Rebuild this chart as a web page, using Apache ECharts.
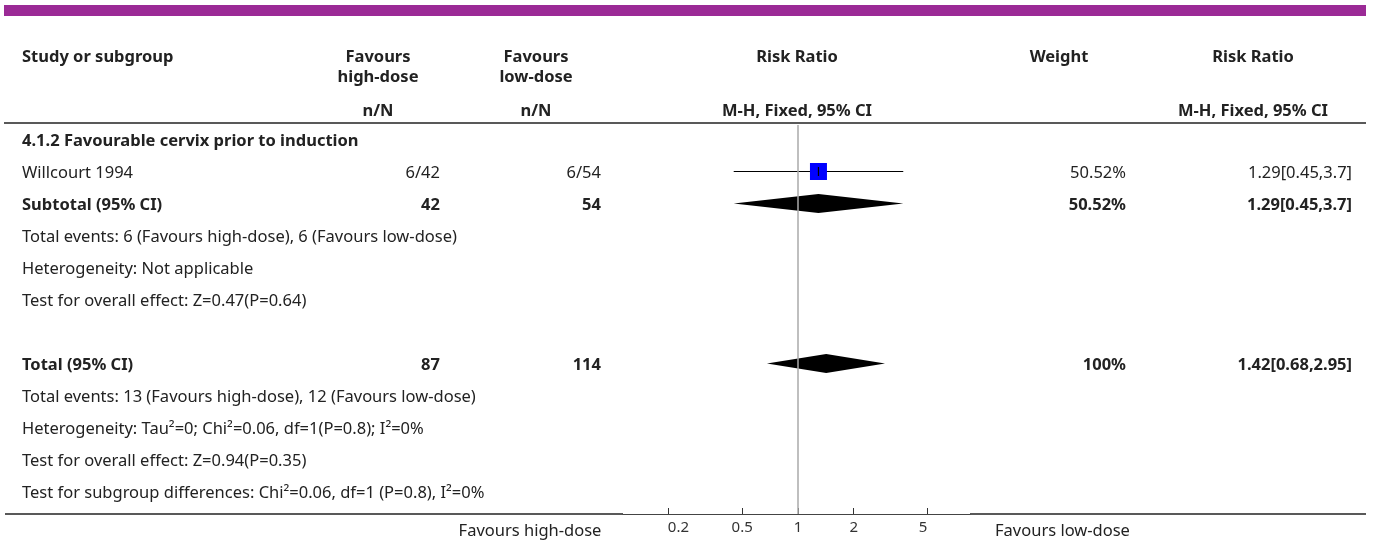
<!DOCTYPE html>
<html>
<head>
<meta charset="utf-8">
<script src="https://cdn.jsdelivr.net/npm/echarts@6/dist/echarts.min.js"></script>
<style>
  html, body { margin: 0; padding: 0; background: #fff; }
  #main { width: 1373px; height: 542px; }
</style>
</head>
<body>
<div id="main"></div>
<script>
// table rows, top to bottom
const rowLabels = [
  "4.1.2 Favourable cervix prior to induction",
  "Willcourt 1994",
  "Subtotal (95% CI)",
  "Total events: 6 (Favours high-dose), 6 (Favours low-dose)",
  "Heterogeneity: Not applicable",
  "Test for overall effect: Z=0.47(P=0.64)",
  "",
  "Total (95% CI)",
  "Total events: 13 (Favours high-dose), 12 (Favours low-dose)",
  "Heterogeneity: Tau²=0; Chi²=0.06, df=1(P=0.8); I²=0%",
  "Test for overall effect: Z=0.94(P=0.35)",
  "Test for subgroup differences: Chi²=0.06, df=1 (P=0.8), I²=0%"
];
const boldRows = [0, 2, 7];
const highDose = ["", "6/42", "42", "", "", "", "", "87", "", "", "", ""];
const lowDose = ["", "6/54", "54", "", "", "", "", "114", "", "", "", ""];
const weights = ["", "50.52%", "50.52%", "", "", "", "", "100%", "", "", "", ""];
const rrText = ["", "1.29[0.45,3.7]", "1.29[0.45,3.7]", "", "", "", "", "1.42[0.68,2.95]", "", "", "", ""];

// individual studies
const studyRows = [1];
const studyRR = [1.29];
const studyLow = [0.45];
const studyHigh = [3.7];

// pooled estimates (diamonds)
const diamondRows = [2, 7];
const diamondRR = [1.29, 1.42];
const diamondLow = [0.45, 0.68];
const diamondHigh = [3.7, 2.95];

const tickValues = [0.2, 0.5, 1, 2, 5];

const FONT = "'Noto Sans'";
const SIZE = 16.5;
const txtColor = "#222";

let chart = echarts.init(document.getElementById("main"));

function txt(text, x, y, align, bold, size) {
  return {
    type: "text",
    x: x,
    y: y,
    style: {
      text: text,
      fill: txtColor,
      font: (bold ? "bold " : "") + (size || SIZE) + "px " + FONT,
      align: align || "left",
      verticalAlign: "middle"
    }
  };
}

let option = {
  animation: false,
  grid: { left: 623, width: 347, top: 125, height: 389 },
  xAxis: {
    type: "log",
    logBase: 10,
    min: 0.1137,
    max: 8.48,
    position: "bottom",
    axisLine: { onZero: false, lineStyle: { color: "#444", width: 1 } },
    axisTick: { customValues: tickValues, inside: true, length: 6, lineStyle: { color: "#333" } },
    axisLabel: {
      customValues: tickValues,
      color: "#333",
      fontSize: 15,
      fontFamily: "Noto Sans",
      margin: 6,
      formatter: function (v) {
        // the two outer labels sit a little inward in the reference
        if (v < 0.3) return "{l|" + v + "}";
        if (v > 4) return "{r|" + v + "}";
        return "{c|" + v + "}";
      },
      rich: {
        l: { fontSize: 15, fontFamily: "Noto Sans", color: "#333", padding: [0, 0, 0, 20] },
        r: { fontSize: 15, fontFamily: "Noto Sans", color: "#333", padding: [0, 9, 0, 0] },
        c: { fontSize: 15, fontFamily: "Noto Sans", color: "#333" }
      }
    },
    splitLine: { show: false }
  },
  yAxis: { type: "value", inverse: true, min: -0.5, max: 11.656, show: false },
  graphic: [
    { type: "rect", shape: { x: 4, y: 5, width: 1362, height: 11 }, style: { fill: "#9b2a96" } },
    txt("Study or subgroup", 22, 57, "left", true),
    txt("Favours", 378, 57, "center", true),
    txt("high-dose", 378, 77, "center", true),
    txt("n/N", 378, 111, "center", true),
    txt("Favours", 536, 57, "center", true),
    txt("low-dose", 536, 77, "center", true),
    txt("n/N", 536, 111, "center", true),
    txt("Risk Ratio", 797, 57, "center", true),
    txt("M-H, Fixed, 95% CI", 797, 111, "center", true),
    txt("Weight", 1059, 57, "center", true),
    txt("Risk Ratio", 1253, 57, "center", true),
    txt("M-H, Fixed, 95% CI", 1253, 111, "center", true),
    { type: "line", shape: { x1: 4, y1: 123, x2: 1366, y2: 123 }, style: { stroke: "#222", lineWidth: 1.5 } },
    { type: "line", shape: { x1: 5, y1: 514, x2: 623, y2: 514 }, style: { stroke: "#222", lineWidth: 1.5 } },
    { type: "line", shape: { x1: 970, y1: 514, x2: 1366, y2: 514 }, style: { stroke: "#222", lineWidth: 1.5 } },
    txt("Favours high-dose", 530, 531, "center", false),
    txt("Favours low-dose", 995, 531, "left", false)
  ],
  series: [
    {
      name: "table",
      type: "custom",
      clip: false,
      silent: true,
      data: rowLabels.map((t, i) => [1, i]),
      encode: { x: 0, y: 1 },
      renderItem: function (params, api) {
        const i = params.dataIndex;
        const y = api.coord([1, i])[1];
        const b = boldRows.indexOf(i) >= 0;
        return {
          type: "group",
          children: [
            txt(rowLabels[i], 22, y, "left", b),
            txt(highDose[i], 440, y, "right", b),
            txt(lowDose[i], 601, y, "right", b),
            txt(weights[i], 1126, y, "right", b),
            txt(rrText[i], 1352, y, "right", b)
          ]
        };
      },
      markLine: {
        silent: true,
        symbol: "none",
        label: { show: false },
        lineStyle: { color: "#aaa", width: 1.5, type: "solid" },
        data: [{ xAxis: 1 }]
      }
    },
    {
      name: "studies",
      type: "custom",
      clip: false,
      data: studyRows.map((r, i) => [studyRR[i], studyLow[i], studyHigh[i], r]),
      encode: { x: [0, 1, 2], y: 3 },
      renderItem: function (params, api) {
        const row = api.value(3);
        const p = api.coord([api.value(0), row]);
        const l = api.coord([api.value(1), row]);
        const h = api.coord([api.value(2), row]);
        const s = 17;
        const cy = Math.round(p[1]) - 1.5;
        return {
          type: "group",
          children: [
            { type: "line", shape: { x1: l[0], y1: cy, x2: h[0], y2: cy }, style: { stroke: "#000", lineWidth: 1.2 } },
            { type: "rect", shape: { x: p[0] - s / 2, y: cy - s / 2, width: s, height: s }, style: { fill: "#0000ff" } },
            { type: "line", shape: { x1: p[0], y1: cy - 4.5, x2: p[0], y2: cy + 4.5 }, style: { stroke: "#000", lineWidth: 1.2 } }
          ]
        };
      }
    },
    {
      name: "pooled",
      type: "custom",
      clip: false,
      data: diamondRows.map((r, i) => [diamondRR[i], diamondLow[i], diamondHigh[i], r]),
      encode: { x: [0, 1, 2], y: 3 },
      renderItem: function (params, api) {
        const row = api.value(3);
        const p = api.coord([api.value(0), row]);
        const l = api.coord([api.value(1), row]);
        const h = api.coord([api.value(2), row]);
        const cy = p[1] - 1.5;
        return {
          type: "polygon",
          shape: { points: [[l[0], cy], [p[0], cy - 9.5], [h[0], cy], [p[0], cy + 9.5]] },
          style: { fill: "#000" }
        };
      }
    }
  ]
};
chart.setOption(option);
</script>
</body>
</html>
